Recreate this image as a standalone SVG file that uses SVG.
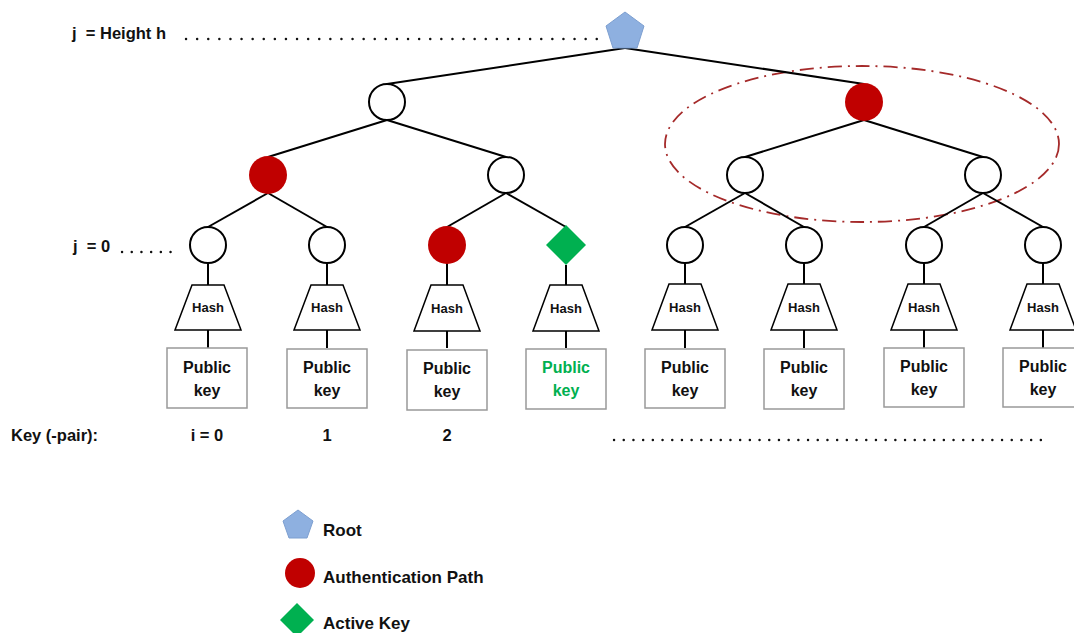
<svg xmlns="http://www.w3.org/2000/svg" width="1074" height="633" viewBox="0 0 1074 633">
  <style>
    text { font-family: "Liberation Sans", Arial, sans-serif; font-weight: bold; fill: #111; }
    .edge { stroke: #000; stroke-width: 2; fill: none; }
    .node { fill: #fff; stroke: #000; stroke-width: 2; }
    .auth { fill: #c00000; }
    .root { fill: #8eb0e0; stroke: #7d9fd0; stroke-width: 1; }
    .active { fill: #00b050; }
    .hash { fill: #fff; stroke: #000; stroke-width: 1.5; }
    .hash-label { font-size: 13px; text-anchor: middle; }
    .box { fill: #fff; stroke: #999; stroke-width: 1.5; }
    .key-label { font-size: 16px; text-anchor: middle; }
    .green { fill: #00b050; }
    .dots { stroke: #111; stroke-width: 2.4; stroke-linecap: round; fill: none; }
    .label { font-size: 16.5px; }
    .legend { font-size: 17px; }
    .group-mark { fill: none; stroke: #a52a2a; stroke-width: 1.8; stroke-dasharray: 14 6 2 6; }
  </style>

  <!-- level labels -->
  <text class="label" x="72" y="39" font-size="17" xml:space="preserve">j  = Height h</text>
  <line class="dots" x1="186" y1="39" x2="604" y2="39" stroke-dasharray="0.1 11"/>
  <text class="label" x="73" y="252" xml:space="preserve">j  = 0</text>
  <line class="dots" x1="122" y1="252" x2="180" y2="252" stroke-dasharray="0.1 9.6"/>

  <!-- subtree highlight -->
  <ellipse class="group-mark" cx="862" cy="144" rx="197" ry="78"/>

  <!-- connectors -->
  <g id="connectors" class="edge">
    <line x1="625" y1="48" x2="387" y2="84"/>
    <line x1="625" y1="48" x2="864" y2="84"/>
    <line x1="387" y1="120" x2="268" y2="157"/>
    <line x1="387" y1="120" x2="506" y2="157"/>
    <line x1="864" y1="120" x2="745" y2="157"/>
    <line x1="864" y1="120" x2="983" y2="157"/>
    <line x1="268" y1="193" x2="208" y2="227"/>
    <line x1="268" y1="193" x2="327" y2="227"/>
    <line x1="506" y1="193" x2="447" y2="227"/>
    <line x1="506" y1="193" x2="566" y2="227"/>
    <line x1="745" y1="193" x2="685" y2="227"/>
    <line x1="745" y1="193" x2="804" y2="227"/>
    <line x1="983" y1="193" x2="924" y2="227"/>
    <line x1="983" y1="193" x2="1043" y2="227"/>
    <!-- leaf to hash to key -->
    <path d="M208 263V285M208 330V348M327 263V285M327 330V348M447 263V285M447 330V348M566 265V285M566 330V348M685 263V285M685 330V348M804 263V285M804 330V348M924 263V285M924 330V348M1043 263V285M1043 330V348"/>
  </g>

  <!-- root -->
  <g id="root">
    <polygon class="root" points="625,12 644,26 637,48 613,48 606,26"/>
  </g>

  <!-- internal nodes -->
  <g id="n-1-0"><circle class="node" cx="387" cy="102" r="18"/></g>
  <g id="n-1-1"><circle class="auth" cx="864" cy="102" r="19"/></g>
  <g id="n-2-0"><circle class="auth" cx="268" cy="175" r="19"/></g>
  <g id="n-2-1"><circle class="node" cx="506" cy="175" r="18"/></g>
  <g id="n-2-2"><circle class="node" cx="745" cy="175" r="18"/></g>
  <g id="n-2-3"><circle class="node" cx="983" cy="175" r="18"/></g>

  <!-- leaf nodes -->
  <g id="leaf-0"><circle class="node" cx="208" cy="245" r="18"/></g>
  <g id="leaf-1"><circle class="node" cx="327" cy="245" r="18"/></g>
  <g id="leaf-2"><circle class="auth" cx="447" cy="245" r="19"/></g>
  <g id="leaf-3"><polygon class="active" points="566,225 586,245 566,265 546,245"/></g>
  <g id="leaf-4"><circle class="node" cx="685" cy="245" r="18"/></g>
  <g id="leaf-5"><circle class="node" cx="804" cy="245" r="18"/></g>
  <g id="leaf-6"><circle class="node" cx="924" cy="245" r="18"/></g>
  <g id="leaf-7"><circle class="node" cx="1043" cy="245" r="18"/></g>

  <!-- hash blocks -->
  <g id="hash-0"><polygon class="hash" points="192,285 224,285 241,330 175,330"/><text class="hash-label" x="208" y="312">Hash</text></g>
  <g id="hash-1"><polygon class="hash" points="311,285 343,285 360,330 294,330"/><text class="hash-label" x="327" y="312">Hash</text></g>
  <g id="hash-2"><polygon class="hash" points="431,285 463,285 480,331 414,331"/><text class="hash-label" x="447" y="313">Hash</text></g>
  <g id="hash-3"><polygon class="hash" points="550,285 582,285 599,331 533,331"/><text class="hash-label" x="566" y="313">Hash</text></g>
  <g id="hash-4"><polygon class="hash" points="669,284 701,284 718,330 652,330"/><text class="hash-label" x="685" y="312">Hash</text></g>
  <g id="hash-5"><polygon class="hash" points="788,284 820,284 837,330 771,330"/><text class="hash-label" x="804" y="312">Hash</text></g>
  <g id="hash-6"><polygon class="hash" points="908,284 940,284 957,330 891,330"/><text class="hash-label" x="924" y="312">Hash</text></g>
  <g id="hash-7"><polygon class="hash" points="1027,284 1059,284 1076,330 1010,330"/><text class="hash-label" x="1043" y="312">Hash</text></g>

  <!-- public keys -->
  <g id="key-0"><rect class="box" x="167" y="348" width="80" height="60"/><text class="key-label" x="207" y="373">Public</text><text class="key-label" x="207" y="396">key</text></g>
  <g id="key-1"><rect class="box" x="287" y="349" width="80" height="59"/><text class="key-label" x="327" y="373">Public</text><text class="key-label" x="327" y="396">key</text></g>
  <g id="key-2"><rect class="box" x="407" y="350" width="80" height="60"/><text class="key-label" x="447" y="374">Public</text><text class="key-label" x="447" y="397">key</text></g>
  <g id="key-3"><rect class="box" x="526" y="349" width="80" height="60"/><text class="key-label green" x="566" y="373">Public</text><text class="key-label green" x="566" y="396">key</text></g>
  <g id="key-4"><rect class="box" x="645" y="349" width="80" height="59"/><text class="key-label" x="685" y="373">Public</text><text class="key-label" x="685" y="396">key</text></g>
  <g id="key-5"><rect class="box" x="764" y="349" width="80" height="60"/><text class="key-label" x="804" y="373">Public</text><text class="key-label" x="804" y="396">key</text></g>
  <g id="key-6"><rect class="box" x="884" y="348" width="80" height="59"/><text class="key-label" x="924" y="372">Public</text><text class="key-label" x="924" y="395">key</text></g>
  <g id="key-7"><rect class="box" x="1003" y="348" width="80" height="59"/><text class="key-label" x="1043" y="372">Public</text><text class="key-label" x="1043" y="395">key</text></g>

  <!-- key indices -->
  <text class="label" x="11" y="441">Key (-pair):</text>
  <text class="label" x="207" y="441" text-anchor="middle">i = 0</text>
  <text class="label" x="327" y="441" text-anchor="middle">1</text>
  <text class="label" x="447" y="441" text-anchor="middle">2</text>
  <line class="dots" x1="614" y1="440" x2="1043" y2="440" stroke-dasharray="0.1 9.6"/>

  <!-- legend -->
  <g id="legend">
    <polygon class="root" points="298,510 313,521 307,538 289,538 283,521"/>
    <text class="legend" x="323" y="536">Root</text>
    <circle class="auth" cx="300" cy="573" r="15"/>
    <text class="legend" x="323" y="583">Authentication Path</text>
    <polygon class="active" points="297,603 314,620 297,637 280,620"/>
    <text class="legend" x="323" y="629">Active Key</text>
  </g>
</svg>
